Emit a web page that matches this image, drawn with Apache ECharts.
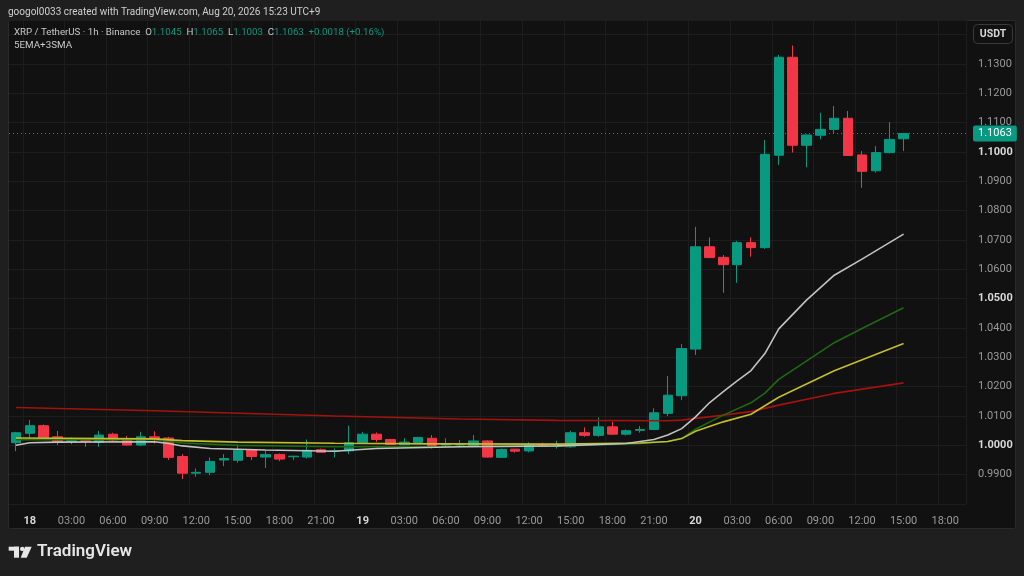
<!DOCTYPE html>
<html>
<head>
<meta charset="utf-8">
<script src="https://cdn.jsdelivr.net/npm/echarts@6/dist/echarts.min.js"></script>
<style>
html,body{margin:0;padding:0;background:#1f1f1f;}
#chart{width:1024px;height:576px;}
</style>
</head>
<body>
<div id="chart"></div>
<script>
// ---- Data ----
const timeLabels = [
 '17 23:00',
 '18 00:00','18 01:00','18 02:00','18 03:00','18 04:00','18 05:00','18 06:00','18 07:00','18 08:00','18 09:00','18 10:00','18 11:00',
 '18 12:00','18 13:00','18 14:00','18 15:00','18 16:00','18 17:00','18 18:00','18 19:00','18 20:00','18 21:00','18 22:00','18 23:00',
 '19 00:00','19 01:00','19 02:00','19 03:00','19 04:00','19 05:00','19 06:00','19 07:00','19 08:00','19 09:00','19 10:00','19 11:00',
 '19 12:00','19 13:00','19 14:00','19 15:00','19 16:00','19 17:00','19 18:00','19 19:00','19 20:00','19 21:00','19 22:00','19 23:00',
 '20 00:00','20 01:00','20 02:00','20 03:00','20 04:00','20 05:00','20 06:00','20 07:00','20 08:00','20 09:00','20 10:00','20 11:00',
 '20 12:00','20 13:00','20 14:00','20 15:00','20 16:00','20 17:00','20 18:00','20 19:00'
];
const opens  = [1.0009,1.0041,1.0067,1.0029,1.0014,1.0016,1.0010,1.0038,1.0020,1.0001,1.0029,1.0025,0.9962,0.9905,0.9908,0.9950,0.9949,0.9984,0.9960,0.9969,0.9961,0.9960,0.9985,0.9979,0.9981,1.0009,1.0038,1.0020,1.0002,1.0010,1.0024,1.0001,1.0001,0.9999,1.0015,0.9959,0.9987,0.9981,1.0002,1.0001,0.9995,1.0043,1.0034,1.0063,1.0038,1.0051,1.0054,1.0109,1.0169,1.0328,1.0677,1.0641,1.0616,1.0691,1.0674,1.0989,1.1323,1.1023,1.1057,1.1077,1.1115,1.0990,1.0936,1.0998,1.1045];
const highs  = [1.0046,1.0086,1.0071,1.0049,1.0027,1.0023,1.0049,1.0043,1.0032,1.0046,1.0048,1.0029,0.9970,0.9921,0.9959,0.9970,1.0004,0.9987,0.9981,0.9972,0.9964,1.0020,0.9989,0.9989,1.0067,1.0046,1.0044,1.0022,1.0024,1.0029,1.0035,1.0024,1.0018,1.0035,1.0018,0.9989,0.9988,1.0010,1.0009,1.0016,1.0050,1.0061,1.0095,1.0080,1.0054,1.0066,1.0126,1.0236,1.0345,1.0745,1.0709,1.0649,1.0697,1.0709,1.1041,1.1331,1.1363,1.1060,1.1134,1.1157,1.1140,1.1003,1.1020,1.1102,1.1065];
const lows   = [0.9980,1.0024,1.0024,1.0001,1.0004,0.9995,0.9995,1.0014,0.9999,0.9997,1.0006,0.9950,0.9885,0.9893,0.9898,0.9929,0.9941,0.9950,0.9923,0.9946,0.9950,0.9955,0.9974,0.9959,0.9970,1.0006,1.0012,1.0001,1.0001,1.0006,0.9989,0.9995,0.9993,0.9997,0.9958,0.9957,0.9975,0.9976,0.9995,0.9989,0.9992,1.0029,1.0029,1.0035,1.0033,1.0043,1.0052,1.0100,1.0154,1.0308,1.0640,1.0520,1.0554,1.0643,1.0670,1.0956,1.0998,1.0948,1.1043,1.1063,1.0988,1.0878,1.0930,1.0995,1.1003];
const closes = [1.0043,1.0067,1.0026,1.0012,1.0016,1.0013,1.0035,1.0018,1.0001,1.0029,1.0022,0.9959,0.9905,0.9908,0.9945,0.9955,0.9983,0.9962,0.9969,0.9953,0.9963,0.9983,0.9976,0.9981,1.0009,1.0038,1.0020,1.0003,1.0011,1.0027,0.9999,1.0004,1.0003,1.0015,0.9960,0.9986,0.9980,1.0001,1.0000,1.0003,1.0043,1.0034,1.0063,1.0038,1.0050,1.0054,1.0111,1.0171,1.0330,1.0677,1.0640,1.0616,1.0691,1.0674,1.0992,1.1323,1.1023,1.1058,1.1077,1.1115,1.0988,1.0934,1.0998,1.1043,1.1063];

// Moving-average lines: [candle index, price]
const maWhite  = [[0,1.0000],[1,1.0009],[3,1.0011],[10,1.0012],[11,1.0006],[12,0.9998],[14,0.9989],[18,0.9984],[23,0.9980],[24,0.9983],[26,0.9989],[32,0.9995],[39,0.9998],[44,1.0006],[46,1.0020],[47,1.0035],[48,1.0057],[49,1.0097],[50,1.0145],[51,1.0183],[52,1.0220],[53,1.0255],[54,1.0313],[55,1.0397],[57,1.0495],[59,1.0580],[61,1.0635],[64,1.0720]];
const maGreen  = [[0,1.0019],[10,1.0019],[12,1.0008],[16,1.0000],[23,0.9995],[30,0.9995],[39,0.9997],[45,1.0006],[47,1.0013],[48,1.0023],[49,1.0055],[51,1.0103],[53,1.0145],[54,1.0178],[55,1.0225],[59,1.0350],[61,1.0398],[64,1.0469]];
const maYellow = [[0,1.0025],[10,1.0022],[12,1.0016],[16,1.0011],[23,1.0007],[30,1.0005],[39,1.0004],[45,1.0008],[47,1.0013],[48,1.0023],[49,1.0048],[51,1.0080],[53,1.0106],[55,1.0164],[59,1.0254],[64,1.0347]];
const maRed    = [[0,1.0129],[10,1.0118],[23,1.0100],[32,1.0090],[39,1.0085],[47,1.0084],[48,1.0086],[49,1.0092],[50,1.0097],[53,1.0115],[55,1.0137],[59,1.0177],[64,1.0213]];

const boldPrices = [1.0, 1.05, 1.1];
const hiddenPrices = [0.98, 1.14, 1.145];

// ---- Chart ----
const chart = echarts.init(document.getElementById('chart'), null, {renderer:'canvas'});
const candleData = opens.map((o,i)=>[o, closes[i], lows[i], highs[i]]);
const lastClose = closes[closes.length-1];
const FONT = 'Roboto, "Noto Sans", sans-serif';
const UP = '#089981', DOWN = '#F23645';

function hourOf(s){ return parseInt(s.split(' ')[1].slice(0,2),10); }

const option = {
  backgroundColor: '#1f1f1f',
  animation: false,
  textStyle: {fontFamily: FONT},
  graphic: [
    {type:'rect', z:-10, shape:{x:8.5,y:20.5,width:1007,height:508,r:2}, style:{fill:'#111111', stroke:'#2a2a2a', lineWidth:1}},
    {type:'text', z:50, x:8, y:12, style:{text:'googol0033 created with TradingView.com, Aug 20, 2026 15:23 UTC+9', fill:'#cfcfcf', font:'10px '+FONT, textVerticalAlign:'middle'}},
    {type:'text', z:50, x:14, y:33, style:{
      text:'XRP / TetherUS · 1h · Binance  O{t|1.1045}  H{t|1.1065}  L{t|1.1003}  C{t|1.1063}  {t|+0.0018 (+0.16%)}',
      fill:'#c8c8c8', font:'9.7px '+FONT, textVerticalAlign:'middle',
      rich:{t:{fill:UP, font:'9.7px '+FONT}}
    }},
    {type:'text', z:50, x:14, y:46, style:{text:'5EMA+3SMA', fill:'#c8c8c8', font:'9.8px '+FONT, textVerticalAlign:'middle'}},
    {type:'rect', z:50, shape:{x:973.5,y:24.5,width:39,height:19,r:4}, style:{fill:'#111111', stroke:'#3a3a3a', lineWidth:1}},
    {type:'text', z:51, x:993, y:34, style:{text:'USDT', fill:'#d6d6d6', font:'bold 10.5px '+FONT, textAlign:'center', textVerticalAlign:'middle'}},
    // TradingView logo
    {type:'rect', shape:{x:8.7,y:546.7,width:10.3,height:4}, style:{fill:'#e6e6e6'}},
    {type:'rect', shape:{x:14,y:546.7,width:5,height:11}, style:{fill:'#e6e6e6'}},
    {type:'circle', shape:{cx:22.2,cy:548.9,r:2.2}, style:{fill:'#e6e6e6'}},
    {type:'polygon', shape:{points:[[25,546.7],[31.7,546.7],[26.7,557.7],[20.7,557.7]]}, style:{fill:'#e6e6e6'}},
    {type:'text', x:37, y:552, style:{text:'TradingView', fill:'#e6e6e6', font:'600 17px '+FONT, textVerticalAlign:'middle'}}
  ],
  grid: {left:9, right:58, top:20, bottom:72, containLabel:false},
  xAxis: {
    type:'category', data: timeLabels, boundaryGap:true,
    axisLine:{show:false}, axisTick:{show:false},
    axisLabel:{
      margin:12, color:'#9a9a9a', fontSize:11, fontFamily:FONT,
      interval:(i,v)=> hourOf(v)%3===0,
      formatter:(v)=>{ const h=hourOf(v); if(h===0) return '{d|'+v.split(' ')[0]+'}'; return v.split(' ')[1]; },
      rich:{d:{fontWeight:'bold', color:'#d8d8d8', fontSize:11, fontFamily:FONT}}
    },
    splitLine:{show:true, interval:(i,v)=> hourOf(v)%3===0, lineStyle:{color:'#1d1d1d', width:1}}
  },
  yAxis: {
    type:'value', position:'right', scale:true,
    min:0.98, max:1.145, interval:0.01,
    axisLine:{show:false}, axisTick:{show:false},
    splitLine:{show:true, lineStyle:{color:'#1d1d1d', width:1}},
    axisLabel:{
      margin:12, color:'#9a9a9a', fontSize:11, fontFamily:FONT,
      formatter:(v)=>{
        const r=Math.round(v*1000)/1000;
        if(hiddenPrices.some(h=>Math.abs(h-v)<1e-6)) return '';
        const s=v.toFixed(4);
        if(boldPrices.some(b=>Math.abs(b-r)<1e-9)) return '{b|'+s+'}';
        return s;
      },
      rich:{b:{fontWeight:'bold', color:'#d8d8d8', fontSize:11, fontFamily:FONT}}
    }
  },
  series: [
    {
      type:'candlestick', data:candleData, barWidth:10, z:2,
      itemStyle:{color:UP, color0:DOWN, borderColor:UP, borderColor0:DOWN, borderWidth:1},
      markLine:{
        silent:true, symbol:['none','none'], animation:false, precision:4,
        lineStyle:{color:UP, type:[1,3], width:1},
        label:{show:true, position:'end', distance:7, formatter:(p)=>Number(p.value).toFixed(4),
          backgroundColor:UP, color:'#ffffff', padding:[3,5,2,5], borderRadius:2, fontSize:11, fontFamily:FONT},
        data:[{yAxis:lastClose}]
      }
    },
    {type:'line', data:maRed, showSymbol:false, z:3, lineStyle:{color:'#a3120f', width:1.6}},
    {type:'line', data:maGreen, showSymbol:false, z:3, lineStyle:{color:'#1d6a12', width:1.6}},
    {type:'line', data:maYellow, showSymbol:false, z:3, lineStyle:{color:'#c4bf26', width:1.6}},
    {type:'line', data:maWhite, showSymbol:false, z:3, lineStyle:{color:'#c2c2c2', width:1.6}}
  ]
};
chart.setOption(option);
</script>
</body>
</html>
